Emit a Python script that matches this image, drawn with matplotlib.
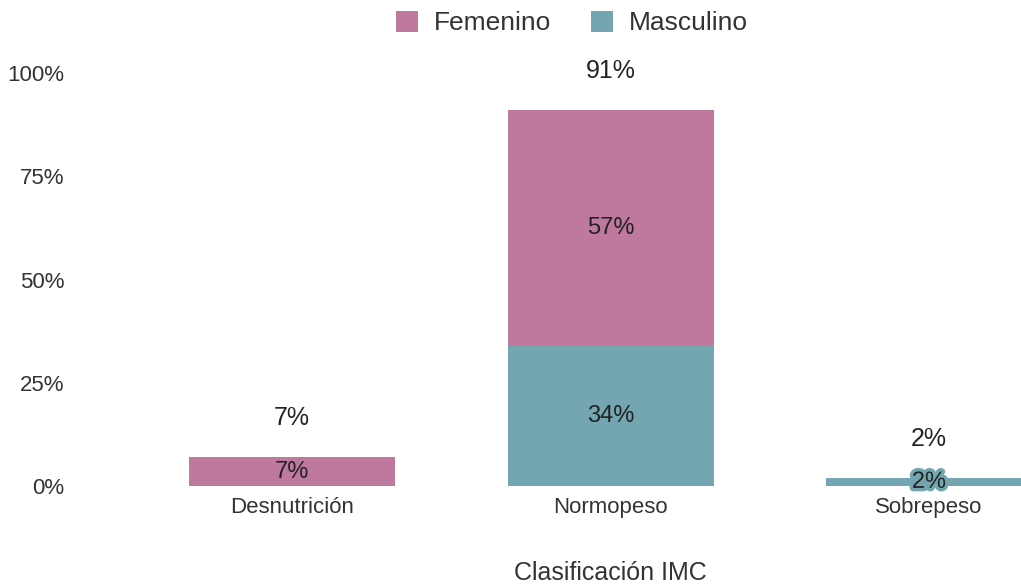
import matplotlib.pyplot as plt
import matplotlib.patheffects as pe
from matplotlib.patches import Patch

plt.rcParams['font.family'] = ['Liberation Sans', 'DejaVu Sans']

# data
categories = ['Desnutrición', 'Normopeso', 'Sobrepeso']
masculino = [0, 34, 2]
femenino = [7, 57, 0]
totals = [7, 91, 2]

col_fem = '#BF789E'
col_mas = '#73A6B0'

fig = plt.figure(figsize=(10.21, 5.85), dpi=100)
ax = fig.add_axes([80 / 1021, 99 / 585, 941 / 1021, 413 / 585])

x = list(range(len(categories)))
w = 0.647
ax.bar(x, masculino, width=w, color=col_mas, label='Masculino', zorder=2)
ax.bar(x, femenino, width=w, bottom=masculino, color=col_fem, label='Femenino', zorder=2)

# segment labels
for i in x:
    if masculino[i] > 0:
        t = ax.text(i, masculino[i] / 2, f'{masculino[i]}%', ha='center', va='center',
                    fontsize=17, color='#222222', zorder=3)
        if masculino[i] < 5:
            t.set_path_effects([pe.withStroke(linewidth=5, foreground=col_mas)])
    if femenino[i] > 0:
        ax.text(i, masculino[i] + femenino[i] / 2, f'{femenino[i]}%', ha='center', va='center',
                fontsize=17, color='#222222', zorder=3)
    # total labels
    ax.text(i, totals[i] + 9.5, f'{totals[i]}%', ha='center', va='center',
            fontsize=18, color='#222222', clip_on=False)

ax.set_xlim(-0.666, 2.289)
ax.set_ylim(0, 100)
ax.set_yticks([0, 25, 50, 75, 100])
ax.set_yticklabels(['0%', '25%', '50%', '75%', '100%'])
ax.set_xticks(x)
ax.set_xticklabels(categories)
ax.tick_params(axis='both', length=0, labelsize=16, colors='#333333')
ax.tick_params(axis='y', pad=11)
ax.tick_params(axis='x', pad=8)
for s in ax.spines.values():
    s.set_visible(False)

ax.set_xlabel('Clasificación IMC', fontsize=18, color='#333333', va='center')
ax.xaxis.set_label_coords((610 - 80) / 941, -(573 - 486) / 413)

handles = [Patch(facecolor=col_fem, label='Femenino'), Patch(facecolor=col_mas, label='Masculino')]
fig.legend(handles=handles, loc='center', bbox_to_anchor=(572 / 1021, 1 - 23 / 585), ncol=2,
           frameon=False, fontsize=19, handlelength=0.85, handleheight=0.85,
           columnspacing=1.5, handletextpad=0.6, labelcolor='#333333')

fig.savefig('out.png', dpi=100)
